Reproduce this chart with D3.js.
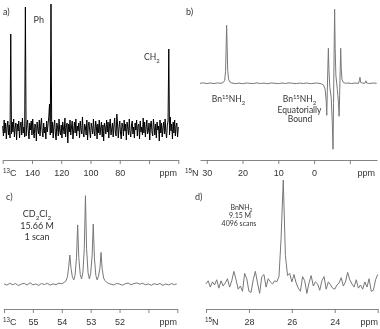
<!DOCTYPE html>
<html>
<head>
<meta charset="utf-8">
<script src="https://cdn.jsdelivr.net/npm/d3@7"></script>
<style>
  body { margin: 0; background: #fff; }
  svg { display: block; filter: grayscale(1); }
  .tick text { font-family: "Liberation Sans", Arial, sans-serif; font-size: 9px; fill: #333; }
  .note { font-family: Lato, "Liberation Sans", sans-serif; fill: #333; }
</style>
</head>
<body>
<svg id="chart" width="380" height="329"></svg>
<script>
// a) 13C spectrum, 160 -> 40 ppm, one point every 0.5 ppm
var aStart = 160, aStep = -0.5;
var aSignal = [
  3,-7,9,-4,6,-10,2,8,-6,4,-9,95,-5,7,-3,10,-8,1,6,-11,
  5,-2,8,-9,3,7,-6,11,-4,2,-8,122,-7,4,9,-3,-10,6,-1,8,
  -6,10,-2,-9,5,3,-12,7,0,-5,9,-7,4,11,-3,-8,6,-4,2,-10,
  8,-3,5,12,25,-6,125,-4,7,-9,3,9,-5,-11,6,2,-7,10,-2,-6,
  4,-9,7,1,-5,11,-8,3,6,-14,5,-3,9,-6,2,8,-10,-1,7,-4,
  10,-7,3,-2,6,-9,8,0,-5,12,-4,-8,5,2,-6,9,-11,4,7,-3,
  -9,6,1,-5,10,-2,-7,8,3,-10,5,-4,9,-6,1,7,-8,4,-12,6,
  2,-5,9,-3,7,-9,4,10,-6,0,6,-8,3,11,-4,-7,15,5,-9,2,
  8,-4,-10,6,3,-7,9,-2,5,-11,7,1,-6,10,-3,-8,4,8,-5,2,
  -9,6,-1,9,-7,3,5,-10,8,-3,2,-6,11,-4,7,-8,1,9,-5,-2,
  6,-11,4,8,-3,-7,10,2,-6,5,-9,7,-1,3,-12,9,-4,6,-8,1,
  7,-5,10,-3,-9,4,8,80,-6,12,-2,5,-10,7,-4,9,-7,3,6,-8,
  2
];
var aTicks = [160, 140, 120, 100, 80, 60, 40];
var aLabels = [140, 120, 100, 80];

// b) 15N spectrum (ppm, intensity)
var bShift = [31.9,31,30,29,28,27,26,25.4,25,24.75,24.6,24.45,24.3,24.15,23.9,23.5,23,22,21,20,
  19,18,17,16,15,14,13,12,11,10,9,8,7,6,5,4,3,2,1,0,-1,-2,-2.6,-3.1,-3.4,-3.55,-3.7,-3.85,-4.0,-4.15,
  -4.4,-4.8,-5.1,-5.3,-5.45,-5.6,-5.75,-5.9,-6.1,-6.5,-6.8,-7.0,-7.15,-7.3,-7.45,-7.6,-7.8,-8.2,-8.8,-9.5,
  -10.5,-11.5,-12.4,-12.7,-12.85,-13.0,-13.5,-14.2,-14.5,-14.7,-15.5,-16.5,-17.5];
var bSignal = [0,0.4,-0.3,0.3,-0.2,0.4,0,0.8,3,12,35,58,36,13,4,1.2,0.3,-0.3,0.2,-0.4,
  0.3,0,-0.3,0.4,-0.2,0.2,-0.4,0.3,0,-0.3,0.3,-0.2,0.4,0,-0.3,0.2,-0.2,0.3,-0.4,0,0.3,-0.5,-1.5,-6,-18,-32,-8,15,35,14,
  -4,-14,-40,-66,-20,30,74,35,8,-6,-18,-33,-12,12,35,15,4,0.8,0,0.3,
  -0.2,0.3,0,3,6,1,0.2,0,2.5,0.3,-0.2,0.3,0];
var bTicks = [30, 20, 10, 0, -10];
var bLabels = [30, 20, 10, 0];

// c) CD2Cl2 quintet (ppm, intensity)
var cShift = [56,55.9,55.8,55.7,55.6,55.5,55.4,55.3,55.2,55.1,55,54.9,54.8,54.7,54.6,54.5,54.4,54.3,54.2,54.1,
  54,53.92,53.85,53.8,53.76,53.72,53.68,53.63,53.585,53.54,53.49,53.45,53.41,53.36,53.315,53.27,53.22,53.18,53.14,53.09,
  53.045,53,52.95,52.91,52.87,52.82,52.775,52.73,52.68,52.64,52.6,52.55,52.5,52.44,52.38,52.3,52.2,52.1,52,51.9,
  51.8,51.7,51.6,51.5,51.4,51.3,51.2,51.1,51,50.9,50.8,50.7,50.6,50.5,50.4,50.3,50.2,50.1,50.02];
var cSignal = [0.5,-1,1.2,-0.5,0.8,-1.5,0.3,1,-0.8,1.8,-0.6,0.4,-1.2,0.9,-0.3,1.1,-0.9,0.5,-0.4,1.3,
  0.6,2,4,9,20,33,18,8,5,10,30,67,30,11,6,13,40,100,40,13,
  6,12,32,68,30,10,5,9,18,36,17,7,4,2,1,0.2,-0.8,1,0.3,-1,
  0.6,1.4,-0.5,0.9,1.5,0.2,1.2,-0.6,0.4,-1.1,0.7,-0.3,0.9,-1.2,0.5,-0.7,0.8,-0.4,0.6];
var cTicks = [56, 55, 54, 53, 52, 51, 50];
var cLabels = [55, 54, 53, 52];

// d) 15N natural abundance, 30 -> 22 ppm, one point every 0.1 ppm
var dStart = 30, dStep = -0.1;
var dSignal = [1,4,-2,3,0,5,-3,4,-1,2,
  6,-2,4,13,5,-4,-1,-6,11,6,
  -6,-7,5,13,2,-8,8,10,-2,6,
  3,1,4,3,8,45,100,28,9,11,
  3,10,2,-3,-6,8,4,-8,2,9,
  -1,3,1,-5,4,8,-4,3,0,-3,
  -4,0,2,7,-1,3,12,5,1,-2,
  5,-3,0,-4,3,-2,6,-6,-5,5,
  10];
var dTicks = [30, 28, 26, 24, 22];
var dLabels = [28, 26, 24];

var svg = d3.select('#chart');

function drawAxis(x, y, ticks, labels) {
  var g = svg.append('g')
    .attr('transform', 'translate(0,' + y + ')')
    .call(d3.axisBottom(x)
      .tickValues(ticks)
      .tickSize(4)
      .tickSizeOuter(0)
      .tickPadding(6)
      .tickFormat(function (d) { return labels.indexOf(d) >= 0 ? d : ''; }));
  g.selectAll('path, line').attr('stroke', '#777').attr('stroke-width', 0.9);
  return g;
}

function drawTrace(xs, ys, x, y, color, width) {
  var pts = xs.map(function (d, i) { return [d, ys[i]]; });
  svg.append('path')
    .datum(pts)
    .attr('fill', 'none')
    .attr('stroke', color)
    .attr('stroke-width', width)
    .attr('stroke-linejoin', 'round')
    .attr('d', d3.line()
      .x(function (d) { return x(d[0]); })
      .y(function (d) { return y(d[1]); }));
}

// text with sub/superscripts: parts = [[text, shift]], shift: 0 normal, 1 sup, -1 sub
function note(px, py, size, parts, anchor) {
  var t = svg.append('text')
    .attr('class', 'note')
    .attr('x', px).attr('y', py)
    .attr('text-anchor', anchor || 'start')
    .style('font-size', size + 'px');
  var prev = 0;
  parts.forEach(function (p) {
    var shift = p[1] || 0;
    var dy = (prev - shift) * size * 0.35;
    t.append('tspan')
      .attr('dy', dy)
      .style('font-size', (shift ? size * 0.7 : size) + 'px')
      .text(p[0]);
    prev = shift;
  });
  return t;
}

function axisText(px, py, parts, anchor) {
  return note(px, py, 9, parts, anchor)
    .attr('class', null)
    .style('font-family', '"Liberation Sans", Arial, sans-serif')
    .style('fill', '#333');
}

// ---- panel a
var xA = d3.scaleLinear().domain([160, 40]).range([2.7, 178.3]);
var yA = d3.scaleLinear().domain([0, 125]).range([129, 4]);
var aShift = aSignal.map(function (d, i) { return aStart + i * aStep; });
drawTrace(aShift, aSignal, xA, yA, '#000', 1);
drawAxis(xA, 160, aTicks, aLabels);
axisText(3, 176.4, [['13', 1], ['C', 0]]);
axisText(177, 176.4, [['ppm', 0]], 'end');
note(3, 15, 9, [['a)', 0]]);
note(33.5, 23, 9, [['Ph', 0]]);
note(144, 60, 8.5, [['CH', 0], ['2', -1]]);

// ---- panel b
var xB = d3.scaleLinear().domain([31.9, -17.6]).range([200, 377]);
var yB = d3.scaleLinear().domain([-66, 74]).range([149.3, 9.3]);
drawTrace(bShift, bSignal, xB, yB, '#777', 1);
drawAxis(xB, 160, bTicks, bLabels);
axisText(185, 176.4, [['15', 1], ['N', 0]]);
axisText(375, 176.4, [['ppm', 0]], 'end');
note(186, 15, 9, [['b)', 0]]);
note(228.5, 102, 8.5, [['Bn', 0], ['15', 1], ['NH', 0], ['2', -1]], 'middle');
note(299.5, 102, 8.5, [['Bn', 0], ['15', 1], ['NH', 0], ['2', -1]], 'middle');
note(299.5, 113, 8.5, [['Equatorially', 0]], 'middle');
note(300, 121.5, 8.5, [['Bound', 0]], 'middle');

// ---- panel c
var xC = d3.scaleLinear().domain([56, 50]).range([4, 177.3]);
var yC = d3.scaleLinear().domain([0, 100]).range([284.3, 195.7]);
drawTrace(cShift, cSignal, xC, yC, '#777', 1);
drawAxis(xC, 309, cTicks, cLabels);
axisText(3, 325.4, [['13', 1], ['C', 0]]);
axisText(177, 325.4, [['ppm', 0]], 'end');
note(6, 200, 9, [['c)', 0]]);
note(37, 216.5, 9, [['CD', 0], ['2', -1], ['Cl', 0], ['2', -1]], 'middle');
note(37, 228.5, 9, [['15.66 M', 0]], 'middle');
note(37, 240, 9, [['1 scan', 0]], 'middle');

// ---- panel d
var xD = d3.scaleLinear().domain([30, 22]).range([206, 377.7]);
var yD = d3.scaleLinear().domain([0, 100]).range([285, 180]);
var dShift = dSignal.map(function (d, i) { return dStart + i * dStep; });
drawTrace(dShift, dSignal, xD, yD, '#777', 1);
drawAxis(xD, 309, dTicks, dLabels);
axisText(205, 325.4, [['15', 1], ['N', 0]]);
axisText(378, 325.4, [['ppm', 0]], 'end');
note(195, 200, 9, [['d)', 0]]);
note(241.5, 209.5, 7, [['BnNH', 0], ['2', -1]], 'middle');
note(240, 217.5, 7, [['9.15 M', 0]], 'middle');
note(239, 225.5, 7, [['4096 scans', 0]], 'middle');
</script>
</body>
</html>
